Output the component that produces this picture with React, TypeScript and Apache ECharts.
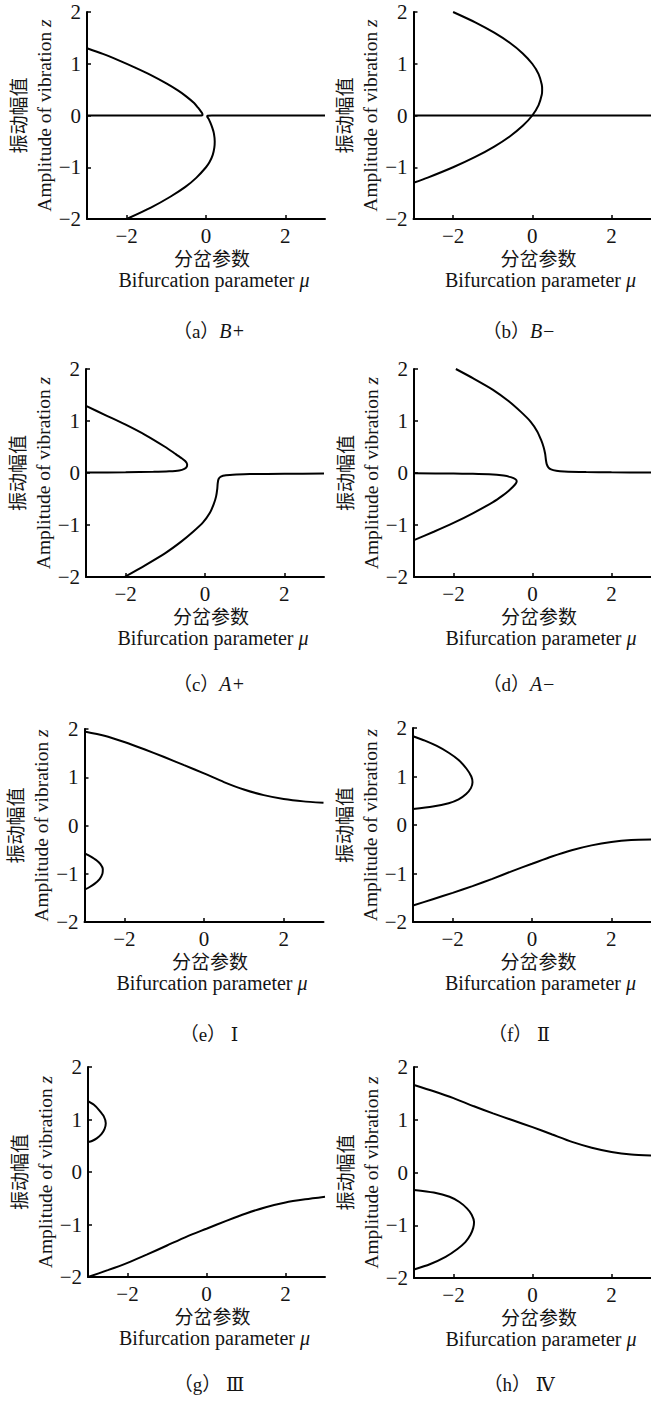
import React, { useEffect, useRef } from "react";
import * as echarts from "echarts";

type P = [number, number];

// ---------- data (mu, z) ----------
const muTicks = [-2, 0, 2];
const zTicks = [-2, -1, 0, 1, 2];
const captions = ["（a）{i|B+}", "（b）{i|B−}", "（c）{i|A+}", "（d）{i|A−}", "（e） Ⅰ", "（f） Ⅱ", "（g） Ⅲ", "（h） Ⅳ"];

// (a) B+
const aUpper: P[] = [[-3.0, 1.30], [-2.6, 1.19], [-2.2, 1.065], [-1.8, 0.93], [-1.4, 0.785], [-1.0, 0.62], [-0.7, 0.48], [-0.5, 0.37], [-0.3, 0.24], [-0.2, 0.15], [-0.13, 0.08], [-0.09, 0.03], [-0.09, 0.005], [-0.15, 0.0], [-3.0, 0.0]];
const aLower: P[] = [[3.0, 0.0], [0.15, 0.0], [0.04, -0.005], [0.03, -0.02], [0.07, -0.07], [0.11, -0.14], [0.16, -0.24], [0.2, -0.35], [0.22, -0.5], [0.21, -0.62], [0.17, -0.76], [0.09, -0.9], [0.0, -1.0], [-0.24, -1.2], [-0.52, -1.38], [-0.9, -1.57], [-1.39, -1.78], [-2.0, -2.0]];
// (b) B-
const bCurve: P[] = [[-2.0, 2.0], [-1.44, 1.8], [-0.96, 1.6], [-0.56, 1.4], [-0.24, 1.2], [0.0, 1.0], [0.16, 0.8], [0.24, 0.6], [0.25, 0.5], [0.24, 0.4], [0.16, 0.2], [0.0, 0.0], [-0.24, -0.2], [-0.56, -0.4], [-0.96, -0.6], [-1.44, -0.8], [-2.0, -1.0], [-2.64, -1.2], [-3.0, -1.3]];
const bZero: P[] = [[-3.0, 0.0], [3.0, 0.0]];
// (c) A+
const cUpper: P[] = [[-3.0, 1.29], [-2.5, 1.11], [-2.0, 0.93], [-1.5, 0.73], [-1.0, 0.5], [-0.75, 0.37], [-0.6, 0.29], [-0.5, 0.23], [-0.45, 0.17], [-0.46, 0.12], [-0.52, 0.08], [-0.65, 0.05], [-0.9, 0.033], [-1.3, 0.022], [-2.0, 0.013], [-3.0, 0.008]];
const cLower: P[] = [[-2.03, -2.0], [-1.5, -1.77], [-1.0, -1.54], [-0.6, -1.32], [-0.3, -1.13], [-0.05, -0.95], [0.12, -0.77], [0.22, -0.6], [0.28, -0.45], [0.31, -0.3], [0.32, -0.2], [0.34, -0.12], [0.4, -0.07], [0.53, -0.045], [0.8, -0.03], [1.13, -0.02], [2.0, -0.015], [3.0, -0.012]];
// (d) A-
const dUpper: P[] = [[-1.94, 2.0], [-1.5, 1.82], [-1.0, 1.6], [-0.6, 1.38], [-0.3, 1.18], [-0.05, 0.99], [0.12, 0.8], [0.22, 0.63], [0.28, 0.5], [0.32, 0.37], [0.34, 0.25], [0.36, 0.17], [0.4, 0.11], [0.47, 0.07], [0.6, 0.045], [0.8, 0.03], [1.36, 0.018], [2.0, 0.013], [3.0, 0.01]];
const dLower: P[] = [[-3.0, -0.005], [-2.0, -0.01], [-1.56, -0.015], [-1.1, -0.025], [-0.73, -0.05], [-0.55, -0.08], [-0.43, -0.12], [-0.4, -0.16], [-0.42, -0.2], [-0.5, -0.27], [-0.6, -0.34], [-0.75, -0.43], [-1.0, -0.56], [-1.5, -0.77], [-2.0, -0.96], [-2.5, -1.13], [-3.0, -1.29]];
// (e) I
const eUpper: P[] = [[-3.0, 1.95], [-2.5, 1.86], [-2.0, 1.73], [-1.5, 1.58], [-1.0, 1.42], [-0.5, 1.25], [0.0, 1.08], [0.5, 0.9], [1.0, 0.745], [1.5, 0.63], [2.0, 0.55], [2.5, 0.5], [3.0, 0.47]];
const eLoop: P[] = [[-3.0, -0.57], [-2.85, -0.64], [-2.7, -0.72], [-2.6, -0.8], [-2.54, -0.9], [-2.55, -1.0], [-2.62, -1.11], [-2.75, -1.21], [-2.88, -1.28], [-3.0, -1.33]];
// (f) II
const fLoop: P[] = [[-3.0, 1.83], [-2.7, 1.74], [-2.4, 1.63], [-2.1, 1.49], [-1.85, 1.34], [-1.65, 1.16], [-1.53, 1.0], [-1.5, 0.88], [-1.54, 0.76], [-1.66, 0.64], [-1.85, 0.53], [-2.1, 0.45], [-2.5, 0.38], [-3.0, 0.33]];
const fLower: P[] = [[-3.0, -1.66], [-2.5, -1.53], [-2.0, -1.4], [-1.5, -1.26], [-1.0, -1.11], [-0.5, -0.95], [0.0, -0.8], [0.5, -0.65], [1.0, -0.52], [1.5, -0.42], [2.0, -0.35], [2.5, -0.31], [3.0, -0.3]];
// (g) III
const gLoop: P[] = [[-3.0, 1.35], [-2.85, 1.28], [-2.72, 1.18], [-2.6, 1.06], [-2.55, 0.93], [-2.58, 0.82], [-2.66, 0.72], [-2.78, 0.64], [-2.9, 0.59], [-3.0, 0.57]];
const gLower: P[] = [[-3.0, -2.0], [-2.5, -1.87], [-2.0, -1.73], [-1.5, -1.57], [-1.0, -1.4], [-0.5, -1.23], [0.0, -1.08], [0.5, -0.93], [1.0, -0.79], [1.5, -0.67], [2.0, -0.58], [2.5, -0.52], [3.0, -0.47]];
// (h) IV
const hUpper: P[] = [[-3.0, 1.66], [-2.5, 1.54], [-2.0, 1.41], [-1.5, 1.26], [-1.0, 1.12], [-0.5, 0.99], [0.0, 0.86], [0.5, 0.72], [1.0, 0.58], [1.5, 0.47], [2.0, 0.39], [2.5, 0.34], [3.0, 0.32]];
const hLoop: P[] = [[-3.0, -0.33], [-2.5, -0.38], [-2.1, -0.46], [-1.85, -0.56], [-1.66, -0.68], [-1.54, -0.8], [-1.48, -0.94], [-1.5, -1.05], [-1.57, -1.18], [-1.7, -1.32], [-1.9, -1.45], [-2.2, -1.6], [-2.6, -1.74], [-3.0, -1.84]];

const panelCurves: P[][][] = [
  [aUpper, aLower],
  [bCurve, bZero],
  [cUpper, cLower],
  [dUpper, dLower],
  [eUpper, eLoop],
  [fLoop, fLower],
  [gLoop, gLower],
  [hUpper, hLoop],
];

// ---------- layout ----------
const W = 651;
const H = 1401;
const layout = [
  { left: 87, top: 12, width: 238, height: 207, capX: 209, capY: 331 },
  { left: 413.5, top: 12, width: 238, height: 207, capX: 519, capY: 331 },
  { left: 86, top: 369, width: 238, height: 208, capX: 209, capY: 684 },
  { left: 414, top: 369, width: 238, height: 208, capX: 519, capY: 684 },
  { left: 84.5, top: 729, width: 239, height: 193, capX: 209, capY: 1034 },
  { left: 413, top: 728, width: 239, height: 194, capX: 519, capY: 1034 },
  { left: 88, top: 1067, width: 237, height: 210, capX: 209, capY: 1384 },
  { left: 414, top: 1067, width: 238, height: 211, capX: 519, capY: 1384 },
];

const FONT = '"Liberation Serif", "DejaVu Serif", "Noto Sans CJK SC", serif';
const TXT = "#141414";

const fmt = (v: number) => (v < 0 ? "\u2212" + Math.abs(v) : String(v));

function buildOption() {
  const grid: any[] = [];
  const xAxis: any[] = [];
  const yAxis: any[] = [];
  const series: any[] = [];
  const graphic: any[] = [];
  const italic = (size: number) => ({ fontStyle: "italic", fontSize: size, fontFamily: FONT, fill: TXT, color: TXT });

  layout.forEach((g, i) => {
    grid.push({ left: g.left, top: g.top, width: g.width, height: g.height, containLabel: false });
    xAxis.push({
      gridIndex: i,
      type: "value",
      min: -3,
      max: 3,
      axisLine: { show: true, onZero: false, lineStyle: { color: "#000", width: 2 } },
      axisTick: { show: true, inside: true, length: 4, customValues: muTicks, lineStyle: { color: "#000", width: 1.5 } },
      axisLabel: { customValues: muTicks, formatter: fmt, fontSize: 21, fontFamily: FONT, color: TXT, margin: 6 },
      splitLine: { show: false },
    });
    yAxis.push({
      gridIndex: i,
      type: "value",
      min: -2,
      max: 2,
      interval: 1,
      axisLine: { show: true, onZero: false, lineStyle: { color: "#000", width: 2 } },
      axisTick: { show: true, inside: true, length: 4, customValues: zTicks, lineStyle: { color: "#000", width: 1.5 } },
      axisLabel: { formatter: fmt, fontSize: 21, fontFamily: FONT, color: TXT, margin: 6 },
      splitLine: { show: false },
    });
    panelCurves[i].forEach((curve) => {
      series.push({
        type: "line",
        xAxisIndex: i,
        yAxisIndex: i,
        data: curve,
        showSymbol: false,
        symbol: "none",
        smooth: 0.25,
        silent: true,
        lineStyle: { color: "#000", width: 2 },
      });
    });
    const cx = g.left + g.width / 2 + 6;
    const bottom = g.top + g.height;
    const cy = g.top + g.height / 2;
    graphic.push(
      {
        type: "text",
        x: cx,
        y: bottom + 40,
        style: { text: "分岔参数", fontSize: 19, fontFamily: FONT, fill: TXT, align: "center", verticalAlign: "middle" },
      },
      {
        type: "text",
        x: cx + 2,
        y: bottom + 61,
        style: {
          text: "Bifurcation parameter {i|μ}",
          fontSize: 20,
          fontFamily: FONT,
          fill: TXT,
          align: "center",
          verticalAlign: "middle",
          rich: { i: italic(20) },
        },
      },
      {
        type: "text",
        x: g.left - 68,
        y: cy,
        rotation: Math.PI / 2,
        style: { text: "振动幅值", fontSize: 19, fontFamily: FONT, fill: TXT, align: "center", verticalAlign: "middle" },
      },
      {
        type: "text",
        x: g.left - 43,
        y: cy,
        rotation: Math.PI / 2,
        style: {
          text: "Amplitude of vibration {i|z}",
          fontSize: 19.5,
          fontFamily: FONT,
          fill: TXT,
          align: "center",
          verticalAlign: "middle",
          rich: { i: italic(19.5) },
        },
      },
      {
        type: "text",
        x: g.capX,
        y: g.capY,
        style: {
          text: captions[i],
          fontSize: 19,
          fontFamily: FONT,
          fill: TXT,
          align: "center",
          verticalAlign: "middle",
          rich: { i: italic(20) },
        },
      }
    );
  });

  return {
    animation: false,
    backgroundColor: "#ffffff",
    grid,
    xAxis,
    yAxis,
    series,
    graphic,
  };
}

export default function App() {
  const ref = useRef<HTMLDivElement | null>(null);
  useEffect(() => {
    if (!ref.current) return;
    const chart = echarts.init(ref.current, undefined, { renderer: "svg", width: W, height: H });
    chart.setOption(buildOption() as any);
    return () => chart.dispose();
  }, []);
  return <div ref={ref} style={{ position: "absolute", left: 0, top: 0, width: W, height: H, background: "#fff" }} />;
}
